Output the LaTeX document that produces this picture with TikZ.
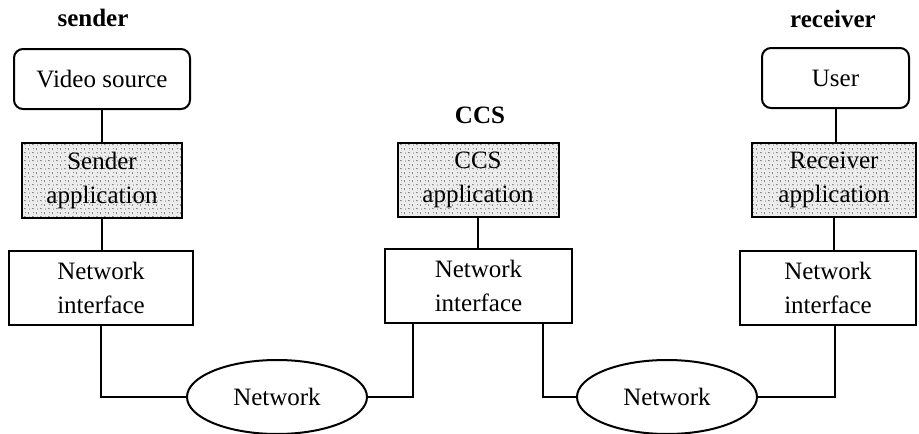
\documentclass[tikz,border=0pt]{standalone}
\usepackage{fontspec}
\setmainfont{Liberation Serif}
\usetikzlibrary{shapes.geometric,patterns.meta}

% fine stipple used for the application layers
\tikzdeclarepattern{
  name=stipple,
  type=uncolored,
  bounding box={(0pt,0pt) and (8pt,8pt)},
  tile size={(8pt,8pt)},
  code={
    \fill (1pt,1.5pt) circle (0.8pt);
    \fill (5pt,5.5pt) circle (0.8pt);
    \fill (6pt,1pt) circle (0.55pt);
    \fill (2pt,6pt) circle (0.5pt);
  }
}

\tikzset{
  every node/.style={font=\fontsize{25}{34}\selectfont, align=center, inner sep=0pt},
  layer/.style={draw, line width=2pt, rectangle},
  endbox/.style={layer, rounded corners=9pt},
  appbox/.style={layer, preaction={fill=black!7}, pattern={stipple}, pattern color=black!70},
  netbox/.style={draw, line width=2pt, ellipse},
  title/.style={font=\fontsize{25}{30}\selectfont\bfseries},
  wire/.style={line width=2pt}
}

\begin{document}
\begin{tikzpicture}[x=1pt, y=-1pt]
  \useasboundingbox (0,0) rectangle (919,434);

  % column titles
  \node[title] (tsend) at (93,18) {sender};
  \node[title] (tccs)  at (480,115) {CCS};
  \node[title] (trecv) at (833,19) {receiver};

  % sender stack
  \node[endbox, minimum width=176pt, minimum height=60pt] (vs)  at (102,79)  {Video source};
  \node[appbox, minimum width=160pt, minimum height=75pt] (sa)  at (102,180) {Sender\\application};
  \node[layer,  minimum width=184pt, minimum height=74pt] (sni) at (101,288) {Network\\interface};

  % CCS stack
  \node[appbox, minimum width=161pt, minimum height=74pt] (ca)  at (478,180) {CCS\\application};
  \node[layer,  minimum width=187pt, minimum height=74pt] (cni) at (478.5,286) {Network\\interface};

  % receiver stack
  \node[endbox, minimum width=147pt, minimum height=60pt] (usr) at (835.5,78) {User};
  \node[appbox, minimum width=164pt, minimum height=74pt] (ra)  at (834,180) {Receiver\\application};
  \node[layer,  minimum width=176pt, minimum height=74pt] (rni) at (828,288) {Network\\interface};

  % networks
  \node[netbox, minimum width=180pt, minimum height=74pt] (n1) at (277,397) {Network};
  \node[netbox, minimum width=180pt, minimum height=74pt] (n2) at (667,397) {Network};

  % vertical links inside each stack
  \draw[wire] (vs.south) -- (vs.south |- sa.north);
  \draw[wire] (sa.south) -- (sa.south |- sni.north);
  \draw[wire] (ca.south) -- (ca.south |- cni.north);
  \draw[wire] (usr.south) -- (usr.south |- ra.north);
  \draw[wire] (ra.south) -- (ra.south |- rni.north);

  % links through the networks
  \coordinate (cl) at ([xshift=-65.5pt]cni.south);
  \coordinate (cr) at ([xshift=64.5pt]cni.south);
  \coordinate (rl) at ([xshift=7pt]rni.south);
  \draw[wire] (sni.south) |- (n1.west);
  \draw[wire] (n1.east) -| (cl);
  \draw[wire] (cr) |- (n2.west);
  \draw[wire] (n2.east) -| (rl);
\end{tikzpicture}
\end{document}
